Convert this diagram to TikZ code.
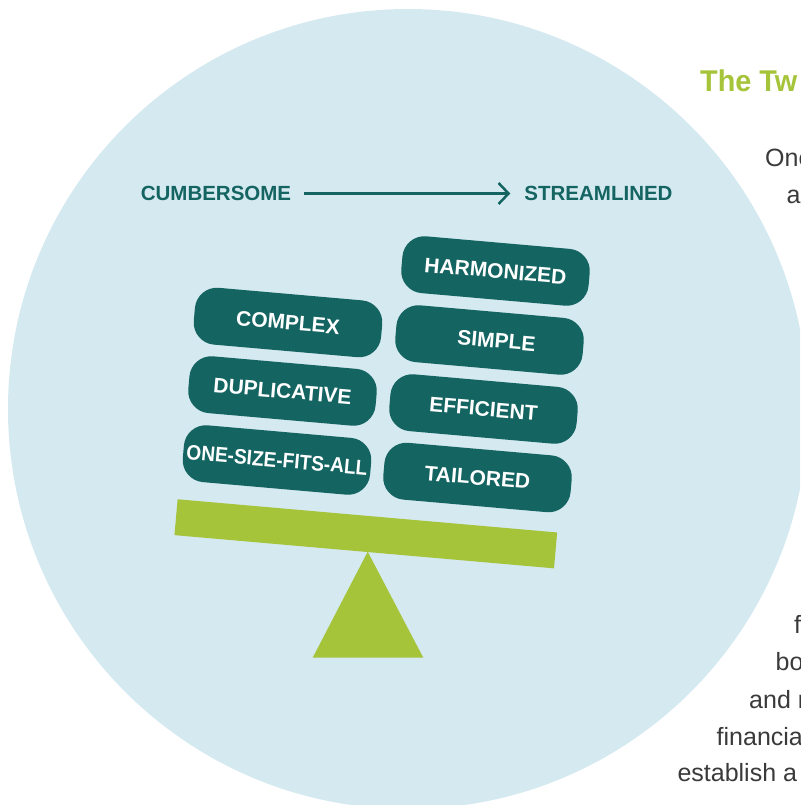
\documentclass[tikz,border=0pt]{standalone}
\usepackage{fontspec}
\setmainfont{Liberation Sans}
\usetikzlibrary{arrows.meta}
\definecolor{bgblue}{HTML}{D5E9F0}
\definecolor{tealdark}{HTML}{146462}
\definecolor{limegreen}{HTML}{A6C43A}
\definecolor{bodygray}{HTML}{3A3A3A}
\tikzset{
  pill/.style={rounded corners=22pt, fill=tealdark, text=white, inner sep=0pt,
    minimum width=188pt, minimum height=57pt, rotate=-5,
    font=\fontsize{21}{24}\selectfont\bfseries},
  axislabel/.style={text=tealdark, inner sep=0pt, font=\fontsize{20.5}{24}\selectfont\bfseries},
  beambar/.style={fill=limegreen, inner sep=0pt, minimum width=381pt, minimum height=36pt, rotate=-5},
  bodytext/.style={text=bodygray, inner sep=0pt, anchor=base west, font=\fontsize{25}{30}\selectfont},
  titletext/.style={text=limegreen, inner sep=0pt, anchor=base west, font=\fontsize{30}{36}\selectfont\bfseries},
  axisarrow/.style={draw=tealdark, line width=2.5pt, -{Straight Barb[length=10pt, width=21pt, line width=2.5pt]}}
}
\begin{document}
\begin{tikzpicture}[x=1pt,y=-1pt]
\useasboundingbox (0,0) rectangle (800,805);
\clip (0,0) rectangle (800,805);
\fill[bgblue] (408,409) circle[radius=400pt];

% axis
\node[axislabel] (cum) at (216,193.5) {CUMBERSOME};
\node[axislabel] (str) at (598.5,193.5) {STREAMLINED};
\draw[axisarrow, shorten <=13pt, shorten >=14pt] (cum.east) -- (str.west);

% pills
\node[pill] (harm) at (495.5,271) {HARMONIZED};
\node[pill] (compl) at (288,322.5) {COMPLEX};
\node[pill] (simp) at (489.5,340) {\hspace*{14pt}SIMPLE};
\node[pill] (dupl) at (282.5,391) {DUPLICATIVE};
\node[pill] (effi) at (483.5,409) {EFFICIENT};
\node[pill] (onesz) at (277,460) {\scalebox{0.91}[1]{ONE-SIZE-FITS-ALL}};
\node[pill] (tail) at (477.5,477.5) {TAILORED};

% seesaw
\node[beambar] (beam) at (365.8,533.8) {};
\fill[limegreen] (367.7,551.7) -- (312.7,657.7) -- (423.3,657.7) -- cycle;

% right-hand text (cut by the page edge)
\node[titletext] (title) at (700,91.7) {\scalebox{0.96}[1]{The Tw}};
\node[bodytext] (l1) at (765,166.5) {One};
\node[bodytext] (l2) at (786.5,203.5) {a};
\node[bodytext] (l3) at (794,633.3) {f};
\node[bodytext] (l4) at (775.5,670) {bo};
\node[bodytext] (l5) at (749,708.3) {and r};
\node[bodytext] (l6) at (716.5,745) {financia};
\node[bodytext] (l7) at (677.3,781.7) {establish a};
\end{tikzpicture}
\end{document}
